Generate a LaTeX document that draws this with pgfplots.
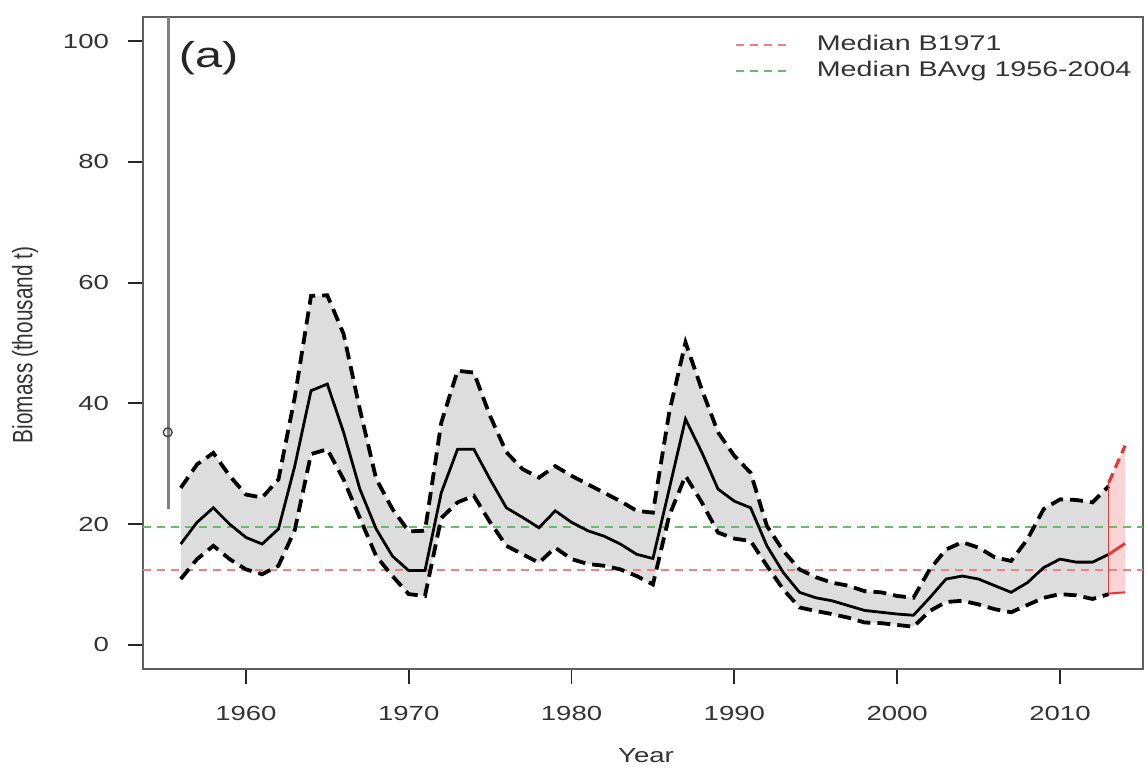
\documentclass[border=0pt]{standalone}
\usepackage{fontspec}
\setmainfont{Liberation Sans}[FakeStretch=1.35]
\newfontfamily\plainsans{Liberation Sans}
\usepackage{graphicx}
\usepackage{pgfplots}
\usepackage{pgfplotstable}
\pgfplotsset{compat=1.18}

\definecolor{bandgray}{RGB}{221,221,221}
\definecolor{refred}{RGB}{236,130,130}
\definecolor{refgreen}{RGB}{95,196,95}
\definecolor{projred}{RGB}{230,55,55}
\definecolor{projfill}{RGB}{250,212,212}
\definecolor{boxgray}{RGB}{95,95,95}

% Estimated biomass (thousand t): lower bound, median, upper bound
\pgfplotstableread{
year lo   med  hi
1956 10.9 16.7 26.0
1957 14.2 20.3 29.9
1958 16.4 22.7 31.8
1959 14.2 20.0 28.0
1960 12.5 17.8 24.9
1961 11.7 16.7 24.4
1962 13.1 19.2 27.4
1963 19.0 29.6 41.0
1964 31.6 42.1 57.8
1965 32.4 43.2 57.9
1966 27.4 35.2 51.5
1967 21.0 25.8 39.0
1968 14.7 19.2 27.5
1969 11.4 14.7 22.5
1970 8.4  12.3 18.8
1971 8.1  12.3 18.9
1972 21.0 25.2 36.8
1973 23.6 32.4 45.4
1974 24.7 32.4 45.1
1975 20.3 27.4 37.9
1976 16.4 22.7 31.9
1977 15.0 21.1 29.1
1978 13.6 19.4 27.7
1979 16.1 22.2 29.6
1980 14.2 20.3 28.0
1981 13.4 18.9 26.6
1982 13.1 18.0 25.2
1983 12.5 16.7 23.8
1984 11.4 15.0 22.2
1985 10.0 14.3 21.9
1986 21.4 25.8 38.5
1987 28.0 37.4 50.1
1988 23.6 31.9 42.3
1989 18.6 25.8 35.2
1990 17.6 23.8 31.3
1991 17.2 22.7 28.5
1992 13.1 16.4 19.7
1993 9.2  12.0 15.6
1994 6.2  8.7  12.5
1995 5.6  7.8  11.2
1996 5.1  7.3  10.3
1997 4.5  6.5  9.8
1998 3.7  5.7  8.9
1999 3.6  5.4  8.7
2000 3.3  5.1  8.1
2001 3.0  4.9  7.8
2002 5.6  7.8  12.5
2003 7.1  10.9 15.8
2004 7.3  11.4 17.0
2005 6.7  10.9 16.1
2006 5.9  9.8  14.5
2007 5.4  8.7  13.9
2008 6.6  10.3 17.5
2009 7.8  12.8 22.5
2010 8.4  14.2 24.1
2011 8.2  13.7 24.0
2012 7.6  13.7 23.6
2013 8.4  15.0 26.3
}\biomass

% Outline of the uncertainty band: upper bound forward, lower bound back
\pgfplotstableread{
year b
1956 26.0
1957 29.9
1958 31.8
1959 28.0
1960 24.9
1961 24.4
1962 27.4
1963 41.0
1964 57.8
1965 57.9
1966 51.5
1967 39.0
1968 27.5
1969 22.5
1970 18.8
1971 18.9
1972 36.8
1973 45.4
1974 45.1
1975 37.9
1976 31.9
1977 29.1
1978 27.7
1979 29.6
1980 28.0
1981 26.6
1982 25.2
1983 23.8
1984 22.2
1985 21.9
1986 38.5
1987 50.1
1988 42.3
1989 35.2
1990 31.3
1991 28.5
1992 19.7
1993 15.6
1994 12.5
1995 11.2
1996 10.3
1997 9.8
1998 8.9
1999 8.7
2000 8.1
2001 7.8
2002 12.5
2003 15.8
2004 17.0
2005 16.1
2006 14.5
2007 13.9
2008 17.5
2009 22.5
2010 24.1
2011 24.0
2012 23.6
2013 26.3
2013 8.4
2012 7.6
2011 8.2
2010 8.4
2009 7.8
2008 6.6
2007 5.4
2006 5.9
2005 6.7
2004 7.3
2003 7.1
2002 5.6
2001 3.0
2000 3.3
1999 3.6
1998 3.7
1997 4.5
1996 5.1
1995 5.6
1994 6.2
1993 9.2
1992 13.1
1991 17.2
1990 17.6
1989 18.6
1988 23.6
1987 28.0
1986 21.4
1985 10.0
1984 11.4
1983 12.5
1982 13.1
1981 13.4
1980 14.2
1979 16.1
1978 13.6
1977 15.0
1976 16.4
1975 20.3
1974 24.7
1973 23.6
1972 21.0
1971 8.1
1970 8.4
1969 11.4
1968 14.7
1967 21.0
1966 27.4
1965 32.4
1964 31.6
1963 19.0
1962 13.1
1961 11.7
1960 12.5
1959 14.2
1958 16.4
1957 14.2
1956 10.9
}\band

% One-year projection
\pgfplotstableread{
year lo  med  hi
2013 8.5 15.0 26.9
2014 8.7 16.8 33.0
}\projection

\begin{document}
\begin{tikzpicture}
\useasboundingbox (0,0) rectangle (573.5pt,383.5pt);
\begin{axis}[
  at={(71.5pt,49pt)}, anchor=south west,
  scale only axis, width=500pt, height=326pt,
  xmin=1953.68, xmax=2015.1, ymin=-4, ymax=104,
  xtick={1960,1970,...,2010}, ytick={0,20,...,100},
  xtick pos=bottom, ytick pos=left,
  tick align=outside, major tick length=7.5pt,
  tick style={black!85, line width=0.9pt},
  axis line style={boxgray, line width=0.9pt},
  /pgf/number format/assume math mode=true,
  x tick label style={/pgf/number format/1000 sep={}, yshift=-7.5pt},
  y tick label style={xshift=-6pt},
  tick label style={font=\fontsize{10.2}{12}\selectfont, text=black!80},
  xlabel={Year},
  ylabel={\scalebox{1}[1.35]{\plainsans\fontsize{10.4}{12}\selectfont Biomass (thousand t)}},
  every axis x label/.style={at={(axis description cs:0.503,-0.133)}, anchor=center, font=\fontsize{10.2}{12}\selectfont, text=black!80},
  every axis y label/.style={at={(axis description cs:-0.118,0.497)}, anchor=center, rotate=90, text=black!80},
  legend cell align=left,
  legend image code/.code={\draw[#1] (0pt,0pt) -- (27.5pt,0pt);},
  legend style={at={(0.592,0.973)}, anchor=north west, draw=none, fill=none,
    font=\fontsize{10.6}{12}\selectfont, text=black!80, inner sep=0pt,
    /tikz/row sep=3pt, /tikz/column sep=12.5pt,
    nodes={inner sep=0pt, text height=7.6pt, text depth=2.4pt}},
]
% shaded uncertainty band and projection band
\addplot[fill=bandgray, draw=none, forget plot] table[x=year,y=b]{\band} -- cycle;
\addplot[fill=projfill, draw=none, forget plot] coordinates {(2013,26.9) (2014,33.0) (2014,8.7) (2013,8.5)} -- cycle;

% reference levels
\addplot[refred, line width=0.75pt, dash pattern=on 4pt off 3pt] coordinates {(1953.68,12.4) (2015.1,12.4)};
\addlegendentry{Median B1971}
\addplot[refgreen, line width=0.75pt, dash pattern=on 4pt off 3pt] coordinates {(1953.68,19.5) (2015.1,19.5)};
\addlegendentry{Median BAvg 1956-2004}

% bounds and median
\addplot[black, line width=1.9pt, dash pattern=on 6.5pt off 3.5pt, forget plot] table[x=year,y=hi]{\biomass};
\addplot[black, line width=1.9pt, dash pattern=on 6.5pt off 3.5pt, forget plot] table[x=year,y=lo]{\biomass};
\addplot[black, line width=1.4pt, forget plot] table[x=year,y=med]{\biomass};

% projection
\addplot[projred, line width=0.6pt, forget plot] coordinates {(2013,8.5) (2013,26.9)};
\addplot[projred, line width=1.4pt, forget plot] table[x=year,y=med]{\projection};
\addplot[projred, line width=1.0pt, forget plot] table[x=year,y=lo]{\projection};
\addplot[projred, line width=1.6pt, dash pattern=on 5pt off 3pt, forget plot] table[x=year,y=hi]{\projection};

% initial value with its interval
\addplot[black!50, line width=1.1pt, forget plot] coordinates {(1955.25,22.5) (1955.25,104)};
\addplot[only marks, mark=o, mark size=2.2pt, black!75, mark options={fill=white, line width=0.7pt}, forget plot] coordinates {(1955.2,35.2)};

\node[anchor=west, font=\fontsize{18}{20}\selectfont, text=black!85] at (axis cs:1955.45,97.1) {(a)};
\end{axis}
\end{tikzpicture}
\end{document}
